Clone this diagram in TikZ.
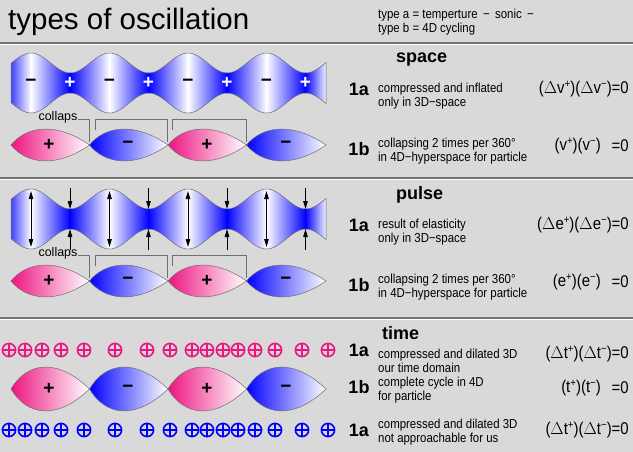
\documentclass[tikz,border=0pt]{standalone}
\usepackage{fontspec}
\setmainfont{Liberation Sans}
\newfontfamily\condf[FakeStretch=0.88]{Liberation Sans}
\usetikzlibrary{arrows.meta}
\definecolor{bg}{RGB}{217,217,217}
\definecolor{pk}{RGB}{238,20,128}
\definecolor{bl}{RGB}{0,0,255}
\definecolor{lnc}{RGB}{110,110,110}
\newcommand{\sps}[1]{\raisebox{0.4em}{\fontsize{11}{11}\selectfont #1}}
\tikzset{
  lbl/.style={font=\fontsize{18}{18}\selectfont\bfseries, inner sep=0pt},
  desc/.style={font=\condf\fontsize{13}{14.5}\selectfont, align=left, anchor=west, inner sep=0pt},
  frm/.style={font=\condf\fontsize{17}{17}\selectfont, inner sep=0pt, anchor=east},
  sgn/.style={font=\fontsize{19}{19}\selectfont\bfseries, inner sep=0pt},
  lensline/.style={draw=lnc, line width=0.5pt},
  brk/.style={draw=lnc, line width=0.7pt},
  tip/.style={-{Triangle[width=4.5pt,length=8pt]}, line width=0.9pt},
}
\newcommand{\sepline}[1]{\draw[line width=1.2pt,color=black!55] (0,#1) -- (633,#1);\draw[line width=1pt,white] (0,#1+1.6) -- (633,#1+1.6);}
\newcommand{\wavepath}[1]{plot[domain=11:326,samples=160] (\x,{#1-20-10*cos(4.586*(\x-31))}) -- plot[domain=326:11,samples=160] (\x,{#1+20+10*cos(4.586*(\x-31))}) -- cycle}
\newcommand{\wave}[1]{%
  \begin{scope}
    \clip \wavepath{#1};
    \foreach \a/\b/\ca/\cb in {11/31/bl!75/white, 31/70/white/bl, 70/109.5/bl/white, 109.5/148.5/white/bl, 148.5/188/bl/white, 188/227/white/bl, 227/266.5/bl/white, 266.5/305.5/white/bl, 305.5/327/bl/white}
      \shade[left color=\ca, right color=\cb] (\a-0.3,#1-40) rectangle (\b+0.3,#1+40);
  \end{scope}
  \draw[lensline] \wavepath{#1};}
\newcommand{\lens}[6]{% x0, x1, c, h, color, name
  \shade[left color=#5, right color=white, lensline] (#1,#3) .. controls (#1+0.2*#2-0.2*#1,#3-1.2*#4) and (#1+0.58*#2-0.58*#1,#3-1.45*#4) .. (#2,#3) .. controls (#1+0.58*#2-0.58*#1,#3+1.45*#4) and (#1+0.2*#2-0.2*#1,#3+1.2*#4) .. (#1,#3) -- cycle;
  \coordinate (#6) at (#1,#3);}
\newcommand{\lensrow}[3]{% center, half height, prefix
  \lens{11}{89.5}{#1}{#2}{pk}{#3a}
  \lens{89.5}{168}{#1}{#2}{bl}{#3b}
  \lens{168}{246.5}{#1}{#2}{pk}{#3c}
  \lens{246.5}{326}{#1}{#2}{bl}{#3d}
  \node[sgn] (#3s1) at (49,#1) {+};
  \node[sgn] (#3s2) at (128,#1) {\textminus};
  \node[sgn] (#3s3) at (207,#1) {+};
  \node[sgn] (#3s4) at (286,#1) {\textminus};}
\newcommand{\collaps}[2]{% lens center y, prefix
  \node[font=\fontsize{12.5}{12}\selectfont, inner sep=0pt] (#2t) at (58,#1-28) {collaps};
  \coordinate (#2b1) at (89.5,#1-3);
  \draw[brk] (#2t.east |- 0,#1-26) -| (#2b1);
  \coordinate (#2b2) at (167.5,#1-3);
  \draw[brk] (95,#1-15) |- (167.5,#1-26) -- (#2b2);
  \coordinate (#2b3) at (246.5,#1-3);
  \draw[brk] (172,#1-15) |- (246.5,#1-26) -- (#2b3);}
\newcommand{\oplusrow}[2]{%
  \foreach \p in {9,25,42,61,84,115,147,170,192,207,223,238,255,275,302,328}
    {\draw[#2,line width=1.6pt] (\p,#1) circle (6.6);
     \draw[#2,line width=1.6pt] (\p-6.6,#1) -- (\p+6.6,#1) (\p,#1-6.6) -- (\p,#1+6.6);}}
\begin{document}
\begin{tikzpicture}[x=1pt,y=-1pt]
\fill[bg] (0,0) rectangle (633,452);
\useasboundingbox (0,0) rectangle (633,452);
% header
\node[font=\fontsize{29.5}{29}\selectfont, anchor=west, inner sep=0pt] (title) at (8,22) {types of oscillation};
\node[desc, align=left] (hdr) at (378,22) {type a = temperture \,\textminus\, sonic \,\textminus\\type b = 4D cycling};
\sepline{43}
% ---------------- space
\node[lbl, anchor=west] (space) at (396,60) {space};
\wave{83}
\foreach \x [count=\i] in {31,109.5,188,266.5} \node[sgn] (sm\i) at (\x,83) {\textminus};
\foreach \x [count=\i] in {70,148.5,227,305.5} \node[sgn,white] (sp\i) at (\x,83) {+};
\node[lbl] (s1a) at (359,89) {1a};
\node[desc] (s1at) at (378,96) {compressed and inflated\\only in 3D\textminus space};
\node[frm] (s1af) at (629,89) {($\Delta$v\sps{+})($\Delta$v\sps{\textminus})=0};
\lensrow{145}{16}{sl}
\collaps{145}{sc}
\node[lbl] (s1b) at (359,149) {1b};
\node[desc] (s1bt) at (378,151) {collapsing 2 times per 360°\\in 4D\textminus hyperspace for particle};
\node[frm] (s1bf) at (601,146) {(v\sps{+})(v\sps{\textminus})};
\node[frm] (s1be) at (629,146) {=0};
\sepline{178}
% ---------------- pulse
\node[lbl, anchor=west] (pulse) at (396,195) {pulse};
\wave{219}
\foreach \x [count=\i] in {31,109.5,188,266.5} \draw[tip,{Triangle[width=4.5pt,length=8pt]}-{Triangle[width=4.5pt,length=8pt]}] (\x,219-28) -- (\x,219+28);
\foreach \x [count=\i] in {70,148.5,227,305.5} {
  \coordinate (pt\i) at (\x,219-10); \coordinate (pb\i) at (\x,219+10);
  \draw[tip] (\x,219-31) -- (pt\i); \draw[tip] (\x,219+31) -- (pb\i);}
\node[lbl] (p1a) at (359,225) {1a};
\node[desc] (p1at) at (378,232) {result of elasticity\\only in 3D\textminus space};
\node[frm] (p1af) at (629,225) {($\Delta$e\sps{+})($\Delta$e\sps{\textminus})=0};
\lensrow{281}{16}{pl}
\collaps{281}{pc}
\node[lbl] (p1b) at (359,285) {1b};
\node[desc] (p1bt) at (378,287) {collapsing 2 times per 360°\\in 4D\textminus hyperspace for particle};
\node[frm] (p1bf) at (601,282) {(e\sps{+})(e\sps{\textminus})};
\node[frm] (p1be) at (629,282) {=0};
\sepline{318}
% ---------------- time
\node[lbl, anchor=west] (time) at (382,333) {time};
\oplusrow{350}{pk}
\node[lbl] (t1a) at (359,350) {1a};
\node[desc] (t1at) at (378,361) {compressed and dilated 3D\\our time domain};
\node[frm] (t1af) at (629,354) {($\Delta$t\sps{+})($\Delta$t\sps{\textminus})=0};
\lensrow{389}{22}{tl}
\node[lbl] (t1b) at (359,387) {1b};
\node[desc] (t1bt) at (378,390) {complete cycle in 4D\\for particle};
\node[frm] (t1bf) at (601,388) {(t\sps{+})(t\sps{\textminus})};
\node[frm] (t1be) at (629,388) {=0};
\oplusrow{430}{bl}
\node[lbl] (t2a) at (359,430) {1a};
\node[desc] (t2at) at (378,432) {compressed and dilated 3D\\not approachable for us};
\node[frm] (t2af) at (629,430) {($\Delta$t\sps{+})($\Delta$t\sps{\textminus})=0};
\end{tikzpicture}
\end{document}
